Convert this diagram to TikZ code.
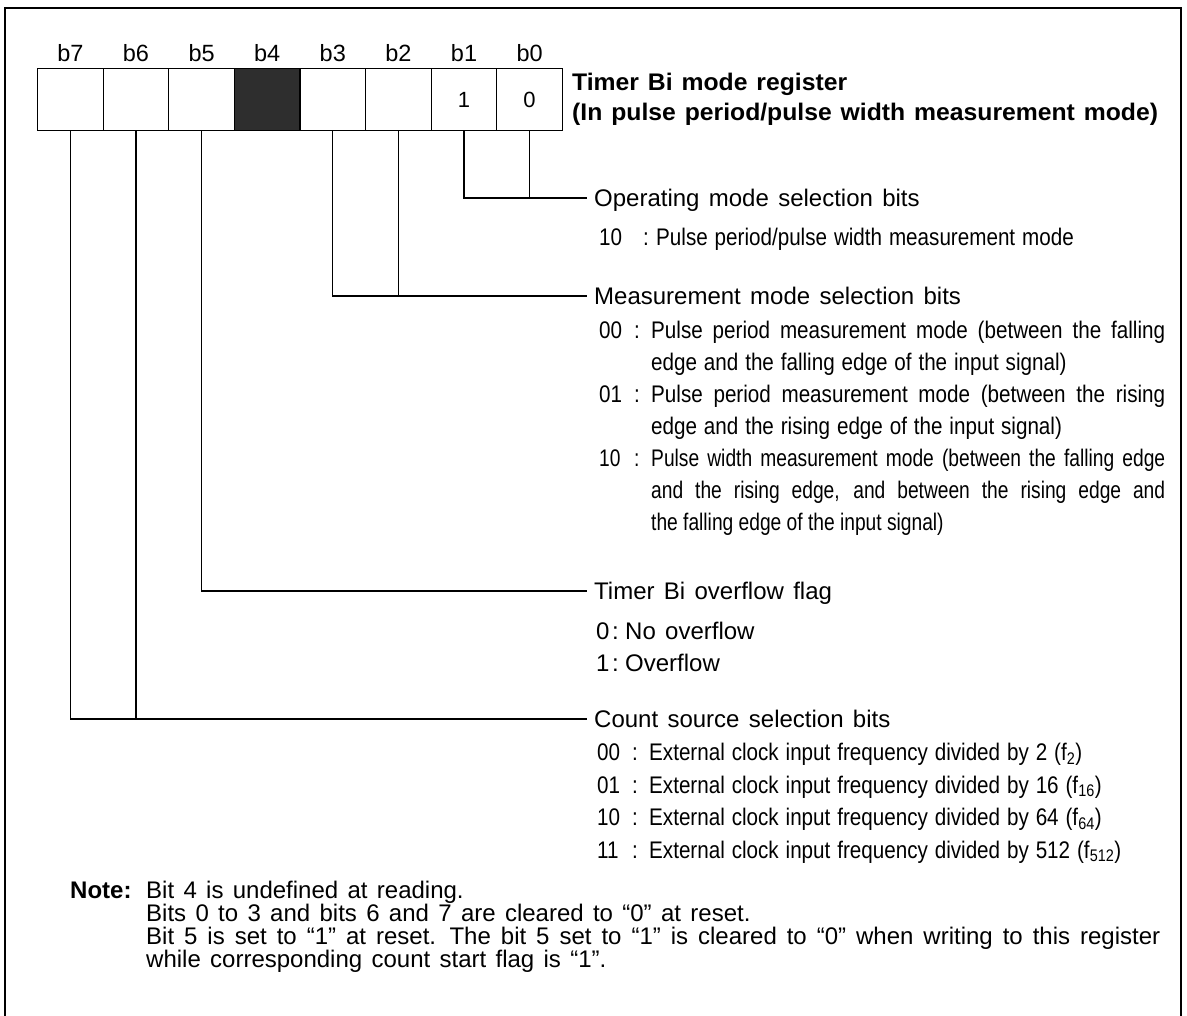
\documentclass[tikz,border=0pt]{standalone}
\usepackage{fontspec}
\usetikzlibrary{calc}
\setmainfont{Liberation Sans}[WordSpace=1.4]
\newfontfamily\condf{Liberation Sans}[FakeStretch=0.86,WordSpace=1.2]
\newfontfamily\condg{Liberation Sans}[FakeStretch=0.8]
\newfontfamily\widef{Liberation Sans}[FakeStretch=1.03,WordSpace=1.3]
\newcommand\itm[2]{\makebox[35pt][l]{#1}\makebox[17pt][l]{:}#2}
\begin{document}
\begin{tikzpicture}[x=1pt,y=-1pt,
  frame/.style={line width=1.7pt},
  cellbox/.style={draw,line width=1.2pt,minimum width=65.6pt,minimum height=62pt,inner sep=0pt,anchor=north west,font=\fontsize{22}{22}\selectfont},
  bitlab/.style={anchor=base,inner sep=0pt,font=\fontsize{23.5}{23.5}\selectfont},
  conn/.style={line width=1.2pt},
  txt/.style={anchor=base west,inner sep=0pt,font=\fontsize{24}{24}\selectfont},
  ctxt/.style={anchor=base west,inner sep=0pt,font={\fontsize{24}{24}\selectfont\condf}},
  gtxt/.style={anchor=base west,inner sep=0pt,font={\fontsize{24}{24}\selectfont\condg}},
  ttl/.style={anchor=base west,inner sep=0pt,font={\fontsize{24}{24}\selectfont\widef\bfseries}},
  nttl/.style={anchor=base west,inner sep=0pt,font=\fontsize{24}{24}\selectfont\bfseries},
]
\useasboundingbox (0,0) rectangle (1187,1016);
% frame (bottom edge lies below the picture)
\draw[frame] (5,1030) -- (5,8) -- (1181,8) -- (1181,1030);

% register cells
\node[cellbox] (c7) at (37,68) {};
\node[cellbox] (c6) at (102.6,68) {};
\node[cellbox] (c5) at (168.2,68) {};
\node[cellbox,fill=black!82] (c4) at (233.8,68) {};
\node[cellbox] (c3) at (299.4,68) {};
\node[cellbox] (c2) at (365,68) {};
\node[cellbox] (c1) at (430.6,68) {1};
\node[cellbox] (c0) at (496.2,68) {0};

% bit labels
\foreach \i in {7,...,0} {
  \node[bitlab] (l\i) at ($(c\i.north)+(0,-6.5)$) {b\i};
}

% title
\node[ttl] (t1) at (572,91) {Timer Bi mode register};
\node[ttl] (t2) at (572,121) {(In pulse period/pulse width measurement mode)};

% operating mode
\coordinate (opE) at (587,198);
\draw[conn] (c1.south) |- (opE);
\draw[conn] (c0.south) -- (c0.south |- opE);
\node[txt] (oph) at (594,206.6) {Operating mode selection bits};
\node[ctxt] (op1) at (599,245.6) {\makebox[44pt][l]{10}\makebox[13pt][l]{:}Pulse period/pulse width measurement mode};

% measurement mode
\coordinate (msE) at (587,296);
\draw[conn] (c3.south) |- (msE);
\draw[conn] (c2.south) -- (c2.south |- msE);
\node[txt] (msh) at (594,304.6) {Measurement mode selection bits};
\node[ctxt] (ms1) at (599,338.6) {\itm{00}{\makebox[514pt][s]{Pulse period measurement mode (between the falling}}};
\node[ctxt] (ms1b) at (651,370.6) {edge and the falling edge of the input signal)};
\node[ctxt] (ms2) at (599,402.6) {\itm{01}{\makebox[514pt][s]{Pulse period measurement mode (between the rising}}};
\node[ctxt] (ms2b) at (651,434.6) {edge and the rising edge of the input signal)};
\node[gtxt] (ms3) at (599,466.6) {\itm{10}{\makebox[514pt][s]{Pulse width measurement mode (between the falling edge}}};
\node[gtxt] (ms3b) at (651,498.6) {\makebox[514pt][s]{and the rising edge, and between the rising edge and}};
\node[gtxt] (ms3c) at (651,530.6) {the falling edge of the input signal)};

% overflow flag
\coordinate (ovE) at (587,591);
\draw[conn] (c5.south) |- (ovE);
\node[txt] (ovh) at (594,599.6) {Timer Bi overflow flag};
\node[txt] (ov0) at (596,639.6) {\makebox[16pt][l]{0}\makebox[13pt][l]{:}No overflow};
\node[txt] (ov1) at (596,671.6) {\makebox[16pt][l]{1}\makebox[13pt][l]{:}Overflow};

% count source
\coordinate (csE) at (587,719);
\draw[conn] (c7.south) |- (csE);
\draw[conn] (c6.south) -- (c6.south |- csE);
\node[txt] (csh) at (594,727.6) {Count source selection bits};
\node[ctxt] (cs0) at (597,760.6) {\itm{00}{External clock input frequency divided by 2 (f\textsubscript{2})}};
\node[ctxt] (cs1) at (597,793.1) {\itm{01}{External clock input frequency divided by 16 (f\textsubscript{16})}};
\node[ctxt] (cs2) at (597,825.6) {\itm{10}{External clock input frequency divided by 64 (f\textsubscript{64})}};
\node[ctxt] (cs3) at (597,858.1) {\itm{11}{External clock input frequency divided by 512 (f\textsubscript{512})}};

% note
\node[nttl] (note) at (70,898.6) {Note:};
\node[txt] (n1) at (146,898.6) {Bit 4 is undefined at reading.};
\node[txt] (n2) at (146,921.6) {Bits 0 to 3 and bits 6 and 7 are cleared to “0” at reset.};
\node[txt] (n3) at (146,944.6) {\makebox[1014pt][s]{Bit 5 is set to “1” at reset. The bit 5 set to “1” is cleared to “0” when writing to this register}};
\node[txt] (n4) at (146,967.6) {while corresponding count start flag is “1”.};
\end{tikzpicture}
\end{document}
